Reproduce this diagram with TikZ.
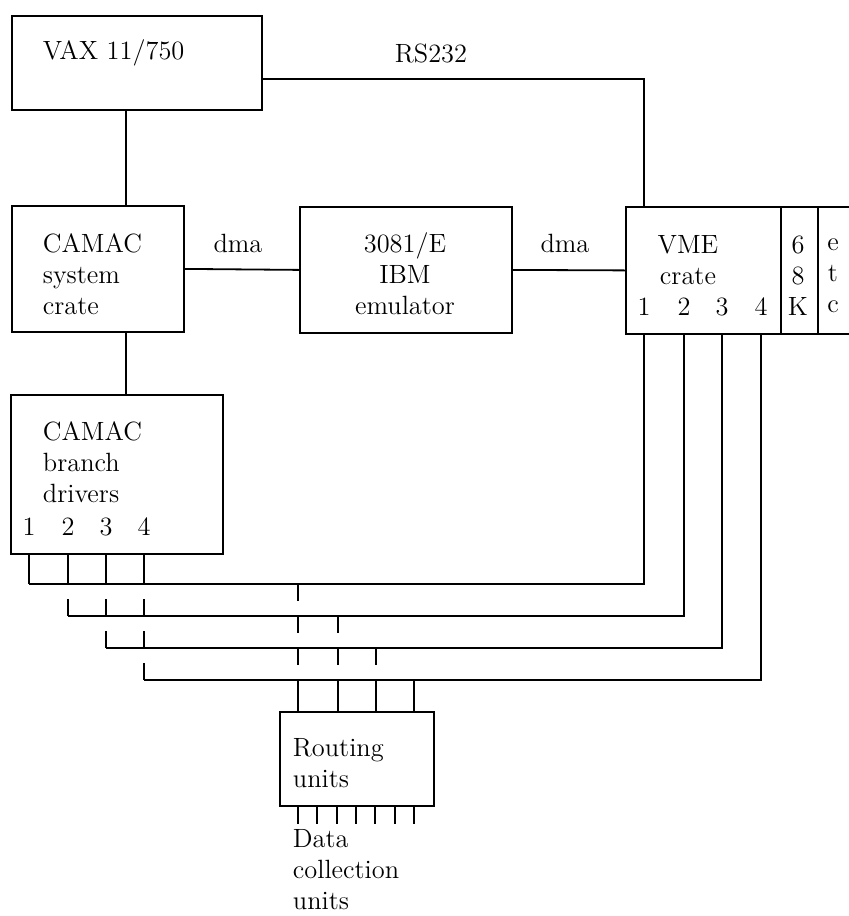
\documentclass[tikz,border=0pt]{standalone}
\usetikzlibrary{calc}
\begin{document}
\begin{tikzpicture}[x=0.5pt, y=-0.5pt, line width=0.9pt,
  box/.style={draw, rectangle, inner sep=0pt, anchor=north west},
  txt/.style={font=\fontsize{13.2}{15.5}\selectfont, inner sep=0pt}]
\useasboundingbox (0,0) rectangle (849,916);
% boxes
\node[box, minimum width=125pt, minimum height=47pt] (vax) at (11,15) {};
\node[box, minimum width=86pt, minimum height=63pt] (camsys) at (11,205) {};
\node[box, minimum width=106pt, minimum height=63pt] (emu) at (299,206) {};
\node[box, minimum width=77.5pt, minimum height=63.5pt] (vme) at (625,206) {};
\node[box, minimum width=18.5pt, minimum height=63.5pt] (k68) at (780,206) {};
\node[box, minimum width=25pt, minimum height=63.5pt] (etcbox) at (817,206) {};
\node[box, minimum width=106pt, minimum height=79.5pt] (branch) at (10,394) {};
\node[box, minimum width=77pt, minimum height=47pt] (routing) at (279,711) {};
% texts
\node[txt, anchor=west] (vaxl) at (42,53) {VAX 11/750};
\node[txt] (rsl) at (431,53) {RS232};
\node[txt, anchor=west, align=left] (camsysl) at (42,274) {CAMAC\\system\\crate};
\node[txt] (dmal) at (238,243) {dma};
\node[txt] (dmar) at (565,243) {dma};
\node[txt, align=center] (emul) at (405,274) {3081/E\\IBM\\emulator};
\node[txt, align=center] (vmel) at (688,260) {VME\\crate};
\node[txt, align=center] (k68l) at (798,276) {6\\8\\K};
\node[txt, align=center] (etcl) at (833,276) {e\\t\\c};
\node[txt, anchor=west, align=left] (branchl) at (42,462) {CAMAC\\branch\\drivers};
\node[txt, anchor=west, align=left] (routingl) at (292,763) {Routing\\units};
\node[txt, anchor=west, align=left] (datal) at (292,870) {Data\\collection\\units};
% links
\coordinate (rs) at (644,79);
\coordinate (vc) at (126,0);
\draw (vax.east |- rs) -- (rs) -- (rs |- vme.north);
\draw (vax.south -| vc) -- (camsys.north -| vc);
\draw (camsys.south -| vc) -- (branch.north -| vc);
\draw (camsys.east) -- (emu.west);
\draw (emu.east) -- (vme.west);
% ports and buses
\foreach \i/\bx/\vx/\rx/\by in {1/29/644/298/584, 2/68/684/338/616,
                                3/106/722/376/648, 4/144/761/414/680} {
  \node[txt] (bp\i) at (\bx,527) {\i};
  \node[txt] (vp\i) at (\vx,307) {\i};
  \coordinate (bus\i) at (0,\by);
  \coordinate (rc\i) at (\rx,0);
}
\foreach \i in {1,...,4} {
  \draw (branch.south -| bp\i) -- (bp\i |- bus1);
  \draw (bp\i |- bus\i) -- (vp\i |- bus\i) -- (vp\i |- vme.south);
  \draw (rc\i |- bus4) -- (rc\i |- routing.north);
}
% hops
\foreach \j/\k/\n in {2/1/2, 3/1/2, 3/2/3, 4/1/2, 4/2/3, 4/3/4}
  \draw ($(bp\j |- bus\k)+(0,15)$) -- (bp\j |- bus\n);
\foreach \j/\k/\n in {1/1/2, 1/2/3, 1/3/4, 2/2/3, 2/3/4, 3/3/4}
  \draw (rc\j |- bus\k) -- ($(rc\j |- bus\n)+(0,-15)$);
% outputs
\foreach \t in {0,...,6}
  \draw ($(routing.south west)+(19+19.33*\t,0)$) -- ++(0,17);
\end{tikzpicture}
\end{document}
